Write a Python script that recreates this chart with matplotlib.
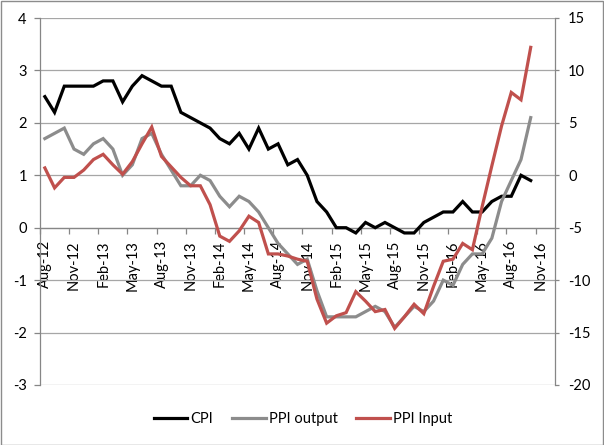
import numpy as np
import pandas as pd
import matplotlib
matplotlib.use('Agg')
import matplotlib.pyplot as plt
from matplotlib.lines import Line2D
from matplotlib.patches import Rectangle

plt.rcParams['font.family'] = ['Lato', 'DejaVu Sans']

# monthly categories on the axis (Aug-12 .. Dec-16), data runs to Oct-16
months = pd.date_range('2012-08-01', '2016-12-01', freq='MS')
month_labels = [d.strftime('%b-%y') for d in months]

cpi = [2.5, 2.2, 2.7, 2.7, 2.7, 2.7, 2.8, 2.8, 2.4, 2.7, 2.9, 2.8, 2.7, 2.7, 2.2, 2.1, 2.0, 1.9,
       1.7, 1.6, 1.8, 1.5, 1.9, 1.5, 1.6, 1.2, 1.3, 1.0,
       0.5, 0.3, 0.0, 0.0, -0.1, 0.1, 0.0, 0.1,
       0.0, -0.1, -0.1, 0.1, 0.2, 0.3, 0.3, 0.5, 0.3, 0.3, 0.5, 0.6, 0.6, 1.0, 0.9]
ppi_output = [1.7, 1.8, 1.9, 1.5, 1.4, 1.6, 1.7, 1.5, 1.0, 1.2, 1.7, 1.8, 1.4, 1.1, 0.8, 0.8, 1.0, 0.9,
              0.6, 0.4, 0.6, 0.5, 0.3, 0.0, -0.3, -0.5, -0.7, -0.6,
              -1.2, -1.7, -1.7, -1.7, -1.7, -1.6, -1.5, -1.6,
              -1.9, -1.7, -1.5, -1.6, -1.4, -1.0, -1.1, -0.7, -0.5, -0.5, -0.2, 0.5, 0.9, 1.3, 2.1]
ppi_input = [0.7, -1.2, -0.2, -0.2, 0.5, 1.5, 2.0, 1.0, 0.1, 1.3, 3.0, 4.6, 1.8, 0.8, -0.2, -1.0, -1.0, -2.8,
             -5.8, -6.3, -5.3, -3.9, -4.5, -7.5, -7.5, -7.7, -8.0, -8.2,
             -11.8, -14.1, -13.4, -13.1, -11.1, -12.0, -13.0, -12.8,
             -14.6, -13.5, -12.3, -13.2, -10.6, -8.2, -8.0, -6.5, -7.1, -3.0, 0.9, 4.7, 7.9, 7.2, 12.2]

left_ticks = np.arange(-3, 5, 1)
right_ticks = np.arange(-20, 20, 5)

grid_col = '#a6a6a6'
axis_col = '#868686'
red = '#c0504d'
grey = '#8c8c8c'
fs = 10.5

fig = plt.figure(figsize=(6.04, 4.45), dpi=100)
ax = fig.add_axes([40 / 604, 1 - 385 / 445, 515 / 604, 367 / 445])
ax2 = ax.twinx()

# x axis crosses at 0 on the left scale (do this before styling ticks, it resets them)
ax.spines['bottom'].set_position(('data', 0))

x = np.arange(len(cpi))
ax.plot(x, cpi, color='black', lw=2.3, zorder=3, solid_joinstyle='miter')
ax.plot(x, ppi_output, color=grey, lw=2.3, zorder=3, solid_joinstyle='miter')
ax2.plot(x, ppi_input, color=red, lw=2.3, zorder=3, solid_joinstyle='miter')

ax.set_xlim(-0.5, len(months) - 0.5)
ax.set_ylim(-3, 4)
ax2.set_ylim(-20, 15)
ax.set_yticks(left_ticks)
ax2.set_yticks(right_ticks)
ax.set_yticklabels([str(v) for v in left_ticks], fontsize=fs)
ax2.set_yticklabels([str(v) for v in right_ticks], fontsize=fs)

# category labels every 3 months, tick marks between categories
lab_pos = np.arange(0, len(months), 3)
ax.set_xticks(lab_pos)
ax.set_xticklabels([month_labels[i] for i in lab_pos], fontsize=fs)
ax.set_xticks(np.arange(-0.5, len(months), 3), minor=True)
ax.tick_params(axis='x', which='major', length=0, pad=9, labelrotation=90)
ax.tick_params(axis='x', which='minor', length=4, color=axis_col, width=0.9)
ax.tick_params(axis='y', length=4.5, color=axis_col, width=0.9, pad=5)
ax2.tick_params(axis='y', length=3, color=axis_col, width=0.9, pad=6.5)

ax.grid(axis='y', color=grid_col, lw=0.9)
ax.set_axisbelow(True)

ax.spines['bottom'].set_color(axis_col)
ax.spines['left'].set_color(axis_col)
ax.spines['top'].set_visible(False)
ax.spines['right'].set_visible(False)
ax2.spines['right'].set_color(axis_col)
ax2.spines['top'].set_visible(False)
ax2.spines['left'].set_visible(False)
ax2.spines['bottom'].set_visible(False)
for s in ['bottom', 'left']:
    ax.spines[s].set_linewidth(0.9)
ax2.spines['right'].set_linewidth(0.9)

handles = [Line2D([], [], color='black', lw=2.3),
           Line2D([], [], color=grey, lw=2.3),
           Line2D([], [], color=red, lw=2.3)]
fig.legend(handles, ['CPI', 'PPI output', 'PPI Input'], loc='center', ncol=3,
           bbox_to_anchor=(303 / 604, 1 - 419 / 445), frameon=False, fontsize=fs,
           handlelength=2.3, handletextpad=0.2, columnspacing=1.3)

fig.patches.append(Rectangle((0.001, 0.001), 0.997, 0.997, transform=fig.transFigure,
                             fill=False, edgecolor='#8c8c8c', lw=1))

fig.savefig('out.png', dpi=100)
